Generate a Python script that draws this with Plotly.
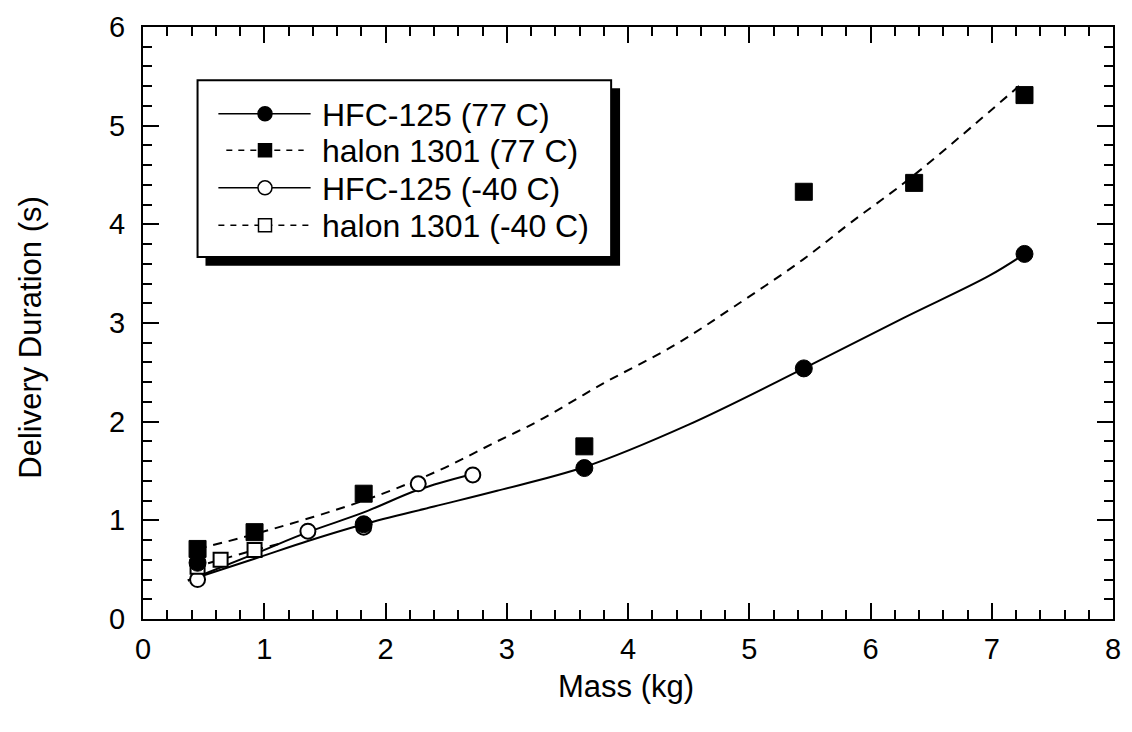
import plotly.graph_objects as go

# ---- data ----
mass_hfc77 = [0.45, 1.82, 3.64, 5.45, 7.27]
dur_hfc77 = [0.57, 0.96, 1.53, 2.54, 3.70]

mass_halon77 = [0.45, 0.92, 1.82, 3.64, 5.45, 6.36, 7.27]
dur_halon77 = [0.71, 0.88, 1.27, 1.75, 4.33, 4.42, 5.31]

mass_hfc40 = [0.45, 1.36, 1.82, 2.27, 2.72]
dur_hfc40 = [0.40, 0.89, 0.93, 1.37, 1.46]

mass_halon40 = [0.45, 0.64, 0.92]
dur_halon40 = [0.53, 0.60, 0.70]

# fitted curves
fit_hfc77_x = [0.37, 0.92, 1.36, 1.82, 2.40, 2.92, 3.64, 4.50, 5.45, 6.27, 6.98, 7.27]
fit_hfc77_y = [0.39, 0.61, 0.79, 0.96, 1.14, 1.30, 1.54, 1.97, 2.54, 3.05, 3.48, 3.70]

fit_halon77_x = [0.45, 0.92, 1.82, 2.43, 2.92, 3.25, 3.80, 4.39, 4.88, 5.44, 5.84, 6.34, 7.27]
fit_halon77_y = [0.71, 0.86, 1.20, 1.50, 1.80, 2.00, 2.39, 2.78, 3.17, 3.64, 4.02, 4.48, 5.45]

fit_hfc40_x = [0.37, 0.92, 1.36, 1.82, 2.27, 2.72]
fit_hfc40_y = [0.39, 0.66, 0.88, 1.08, 1.31, 1.47]

fit_halon40_x = [0.41, 0.64, 0.92, 1.15]
fit_halon40_y = [0.52, 0.60, 0.70, 0.77]

legend_labels = ["HFC-125 (77 C)", "halon 1301 (77 C)", "HFC-125 (-40 C)", "halon 1301 (-40 C)"]

FONT = "Liberation Sans, Arial, Helvetica, sans-serif"
BLACK = "#000000"

W, H = 1132, 732
L, R, T, B = 143, 11, 19, 113
PW, PH = W - L - R, H - T - B


def px_x(px):
    return (px - L) / PW


def px_y(py):
    return (H - B - py) / PH


fig = go.Figure()

# fit lines
fig.add_trace(go.Scatter(x=fit_hfc77_x, y=fit_hfc77_y, mode="lines", line_shape="spline",
                         line=dict(color=BLACK, width=2), showlegend=False, hoverinfo="skip"))
fig.add_trace(go.Scatter(x=fit_halon77_x, y=fit_halon77_y, mode="lines", line_shape="spline",
                         line=dict(color=BLACK, width=2, dash="9px,7px"), showlegend=False, hoverinfo="skip"))
fig.add_trace(go.Scatter(x=fit_hfc40_x, y=fit_hfc40_y, mode="lines", line_shape="spline",
                         line=dict(color=BLACK, width=2), showlegend=False, hoverinfo="skip"))
fig.add_trace(go.Scatter(x=fit_halon40_x, y=fit_halon40_y, mode="lines",
                         line=dict(color=BLACK, width=2, dash="9px,7px"), showlegend=False, hoverinfo="skip"))

# markers
fig.add_trace(go.Scatter(x=mass_hfc40, y=dur_hfc40, mode="markers", name=legend_labels[2],
                         marker=dict(symbol="circle", size=15, color="white", line=dict(color=BLACK, width=2)),
                         showlegend=False))
fig.add_trace(go.Scatter(x=mass_halon40, y=dur_halon40, mode="markers", name=legend_labels[3],
                         marker=dict(symbol="square", size=14, color="white", line=dict(color=BLACK, width=2)),
                         showlegend=False))
fig.add_trace(go.Scatter(x=mass_hfc77, y=dur_hfc77, mode="markers", name=legend_labels[0],
                         marker=dict(symbol="circle", size=17, color=BLACK, line=dict(color=BLACK, width=1)),
                         showlegend=False))
fig.add_trace(go.Scatter(x=mass_halon77, y=dur_halon77, mode="markers", name=legend_labels[1],
                         marker=dict(symbol="square", size=17, color=BLACK, line=dict(color=BLACK, width=1)),
                         showlegend=False))

# empty trace that carries the mirrored (top / right) tick axes
fig.add_trace(go.Scatter(x=[], y=[], xaxis="x2", yaxis="y2", showlegend=False, hoverinfo="skip"))

shapes = []
annotations = []

# legend box with drop shadow
shapes.append(dict(type="rect", xref="paper", yref="paper",
                   x0=px_x(206), x1=px_x(624), y0=px_y(261), y1=px_y(81),
                   fillcolor=BLACK, line=dict(width=0)))
shapes.append(dict(type="rect", xref="paper", yref="paper",
                   x0=px_x(198), x1=px_x(615), y0=px_y(252), y1=px_y(73),
                   fillcolor="white", line=dict(color=BLACK, width=2)))

rows_y = [107, 144, 182, 220]
styles = [("solid", "circle", BLACK), ("dash", "square", BLACK),
          ("solid", "circle", "white"), ("dash", "square", "white")]
line_spans = [(219, 312), (227, 305), (219, 312), (219, 313)]
for i, (lab, ry) in enumerate(zip(legend_labels, rows_y)):
    dash, sym, fill = styles[i]
    x0, x1 = line_spans[i]
    shapes.append(dict(type="line", xref="paper", yref="paper",
                       x0=px_x(x0), x1=px_x(x1), y0=px_y(ry), y1=px_y(ry),
                       line=dict(color=BLACK, width=1.5, dash="6px,6px" if dash == "dash" else "solid")))
    cx, cy = px_x(266), px_y(ry)
    half = 7 if sym == "circle" else 6.5
    shapes.append(dict(type="circle" if sym == "circle" else "rect",
                       xref="paper", yref="paper", xsizemode="pixel", ysizemode="pixel",
                       xanchor=cx, yanchor=cy, x0=-half, x1=half, y0=-half, y1=half,
                       fillcolor=fill, line=dict(color=BLACK, width=1.5)))
    annotations.append(dict(text=lab, xref="paper", yref="paper", x=px_x(321), y=px_y(ry + 1),
                            xanchor="left", yanchor="middle", showarrow=False,
                            font=dict(family=FONT, size=32, color=BLACK)))

# axis titles
annotations.append(dict(text="Mass (kg)", xref="paper", yref="paper", x=px_x(630), y=px_y(687),
                        xanchor="center", yanchor="middle", showarrow=False,
                        font=dict(family=FONT, size=31, color=BLACK)))
annotations.append(dict(text="Delivery Duration (s)", xref="paper", yref="paper", x=px_x(30), y=px_y(333),
                        xanchor="center", yanchor="middle", showarrow=False, textangle=-90,
                        font=dict(family=FONT, size=31, color=BLACK)))

minor = dict(ticks="inside", ticklen=9, tickwidth=1.5, tickcolor=BLACK, dtick=0.2, showgrid=False)
axis_common = dict(showgrid=False, zeroline=False, showline=True, linecolor=BLACK, linewidth=2,
                   ticks="inside", ticklen=16, tickwidth=2, tickcolor=BLACK,
                   tickfont=dict(family=FONT, size=29, color=BLACK), minor=minor)

fig.update_layout(
    width=W, height=H,
    margin=dict(l=L, r=R, t=T, b=B),
    paper_bgcolor="white", plot_bgcolor="white",
    showlegend=False,
    shapes=shapes, annotations=annotations,
    xaxis=dict(range=[0, 8], dtick=1, tick0=0, ticklabelstandoff=3, **axis_common),
    yaxis=dict(range=[0, 6], dtick=1, tick0=0, ticklabelstandoff=10, **axis_common),
    xaxis2=dict(range=[0, 8], dtick=1, tick0=0, overlaying="x", side="top", anchor="y",
                showticklabels=False, **axis_common),
    yaxis2=dict(range=[0, 6], dtick=1, tick0=0, overlaying="y", side="right", anchor="x",
                showticklabels=False, **axis_common),
)

fig.write_html("out.html")
